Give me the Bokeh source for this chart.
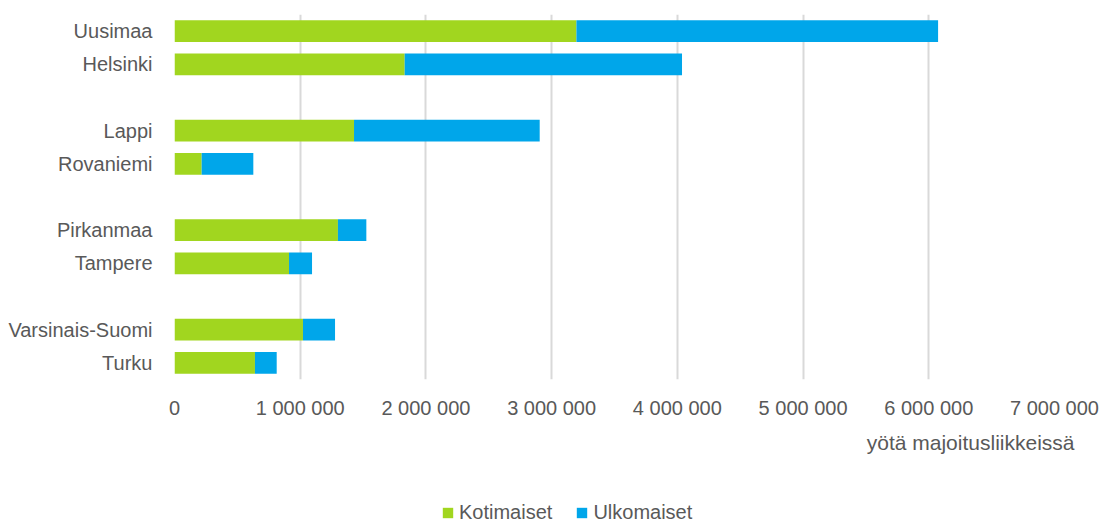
from bokeh.plotting import figure
from bokeh.layouts import column
from bokeh.models import (ColumnDataSource, FactorRange, Range1d, FixedTicker,
                          Legend, LegendItem, Title)
from bokeh.embed import file_html
from bokeh.resources import INLINE

# ---- data ----
regions = ["Uusimaa", "Helsinki", "Lappi", "Rovaniemi",
           "Pirkanmaa", "Tampere", "Varsinais-Suomi", "Turku"]
kotimaiset = [3197000, 1831000, 1428000, 216000,
              1300000, 911000, 1022000, 640000]
ulkomaiset = [2877000, 2206000, 1477000, 411000,
              226000, 183000, 255000, 173000]
# category order top-to-bottom, blank spacers between groups
category_order = ["Uusimaa", "Helsinki", " ", "Lappi", "Rovaniemi", "  ",
                  "Pirkanmaa", "Tampere", "   ", "Varsinais-Suomi", "Turku"]
x_ticks = [0, 1000000, 2000000, 3000000, 4000000, 5000000, 6000000, 7000000]
x_tick_labels = ["0", "1 000 000", "2 000 000", "3 000 000", "4 000 000",
                 "5 000 000", "6 000 000", "7 000 000"]
series_names = ["Kotimaiset", "Ulkomaiset"]
x_title = "yötä majoitusliikkeissä"

GREEN = "#A1D61F"
BLUE = "#00A6EA"
TEXT = "#595959"
GRID = "#D9D9D9"
FONT = "Liberation Sans"
FS = "20px"

source = ColumnDataSource(dict(region=regions, kot=kotimaiset, ulk=ulkomaiset))

p = figure(width=1102, height=484,
           y_range=FactorRange(factors=list(reversed(category_order))),
           x_range=Range1d(0, 7000000),
           output_backend="svg", toolbar_location=None,
           min_border_left=174, min_border_right=48,
           min_border_top=14, min_border_bottom=105)
p.outline_line_color = None
p.background_fill_color = "white"

rs = p.hbar_stack(["kot", "ulk"], y="region", height=0.655,
                  color=[GREEN, BLUE], line_color=None, source=source)

# axes
p.xaxis.ticker = FixedTicker(ticks=x_ticks)
p.xaxis.major_label_overrides = {t: l for t, l in zip(x_ticks, x_tick_labels)}
p.xaxis.axis_line_color = None
p.xaxis.major_tick_line_color = None
p.xaxis.minor_tick_line_color = None
p.xaxis.major_label_standoff = 11
p.xaxis.major_label_text_font = FONT
p.xaxis.major_label_text_font_size = FS
p.xaxis.major_label_text_color = TEXT

p.yaxis.axis_line_color = None
p.yaxis.major_tick_line_color = None
p.yaxis.major_label_standoff = 16
p.yaxis.major_label_text_font = FONT
p.yaxis.major_label_text_font_size = FS
p.yaxis.major_label_text_color = TEXT

p.xgrid.grid_line_color = GRID
p.xgrid.grid_line_width = 2
p.ygrid.grid_line_color = None

# x-axis title, right aligned below tick labels
p.add_layout(Title(text=x_title, align="right", offset=-20, standoff=14,
                   text_font=FONT, text_font_size="21px",
                   text_font_style="normal", text_color=TEXT), "below")

# ---- legend strip (frame aligned with the main plot's frame) ----
p2 = figure(width=1102, height=40, x_range=Range1d(0, 1), y_range=Range1d(0, 1),
            x_axis_location=None, y_axis_location=None,
            output_backend="svg", toolbar_location=None, min_border=0)
p2.outline_line_color = None
p2.grid.grid_line_color = None
# key renderers (zero-width bars, used only for the legend swatches)
keys = ColumnDataSource(dict(y=[0.5], right=[0]))
k1 = p2.hbar(y="y", right="right", height=0.01, color=GREEN, line_color=None, source=keys)
k2 = p2.hbar(y="y", right="right", height=0.01, color=BLUE, line_color=None, source=keys)

legend = Legend(items=[LegendItem(label=series_names[0], renderers=[k1]),
                       LegendItem(label=series_names[1], renderers=[k2])],
                orientation="horizontal", location=(267, 0),
                glyph_width=13, glyph_height=13, label_standoff=5, spacing=23,
                label_height=24, padding=0, margin=0, border_line_color=None,
                background_fill_alpha=0,
                label_text_font=FONT, label_text_font_size=FS,
                label_text_color=TEXT)
p2.add_layout(legend, "center")

open("out.html", "w").write(file_html(column(p, p2, spacing=0), INLINE))
